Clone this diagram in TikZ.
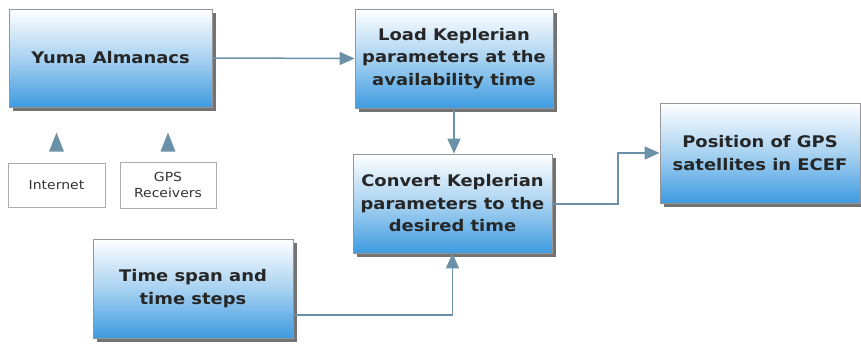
\documentclass[tikz,border=0pt]{standalone}
\usepackage{fontspec}
\setmainfont{DejaVu Sans}[FakeStretch=1.12]
\usetikzlibrary{arrows.meta,shadows}
\definecolor{boxblue}{RGB}{62,155,224}
\definecolor{linkc}{RGB}{108,144,168}
\definecolor{edgec}{RGB}{150,150,150}
\begin{document}
\begin{tikzpicture}[x=1pt,y=-1pt,
  bigbox/.style={draw=edgec, line width=0.8pt, top color=white, bottom color=boxblue,
    middle color={boxblue!45!white}, align=center, font=\fontsize{16}{22.5}\selectfont\bfseries,
    text=black!85, inner sep=0pt,
    drop shadow={shadow xshift=4pt, shadow yshift=-4pt, fill=black, opacity=0.55}},
  smallbox/.style={draw=edgec!80, line width=0.8pt, fill=white, align=center,
    font=\fontsize{12.5}{16.5}\selectfont, text=black!80, inner sep=0pt},
  link/.style={draw=linkc, line width=1.5pt, -{Triangle[length=15pt,width=13pt]}}]
\useasboundingbox (0,0) rectangle (861,345);
\node[bigbox, minimum width=203pt, minimum height=98pt] (yuma) at (110.5,58) {Yuma Almanacs};
\node[bigbox, minimum width=198pt, minimum height=99pt] (load) at (454,58.5) {Load Keplerian\\parameters at the\\availability time};
\node[bigbox, minimum width=199pt, minimum height=99pt] (conv) at (452.5,203.5) {Convert Keplerian\\parameters to the\\desired time};
\node[bigbox, minimum width=200pt, minimum height=100pt] (pos) at (760,153) {Position of GPS\\satellites in ECEF};
\node[bigbox, minimum width=200pt, minimum height=99pt] (span) at (193,288.5) {Time span and\\time steps};
\node[smallbox, minimum width=97pt, minimum height=44pt] (inet) at (56.5,185) {Internet};
\node[smallbox, minimum width=96pt, minimum height=46pt] (gps) at (168,185) {GPS\\Receivers};
\fill[linkc] (inet.north) ++(-7.5,-11) -- ++(15,0) -- ++(-7.5,-19) -- cycle;
\fill[linkc] (gps.north) ++(-7.5,-10) -- ++(15,0) -- ++(-7.5,-19) -- cycle;
\coordinate (bend) at (618,204);
\draw[link] (yuma.east) -- (load.west);
\draw[link] (load.south) -- (load.south |- conv.north);
\draw[link] (conv.east |- bend) -- (bend) |- (pos.west);
\draw[link] ([yshift=-26.5pt]span.east) -| (conv.south);
\end{tikzpicture}
\end{document}
